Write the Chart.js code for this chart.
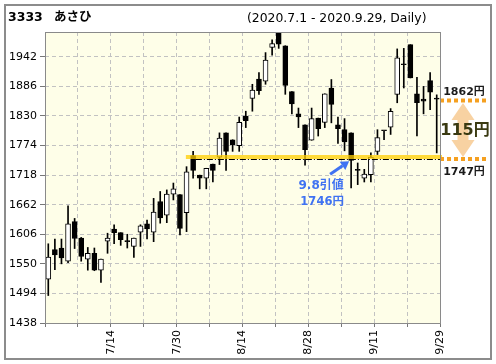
<!DOCTYPE html>
<html>
<head>
<meta charset="utf-8">
<script src="https://cdn.jsdelivr.net/npm/chart.js@4.4.1/dist/chart.umd.min.js"></script>
<style>
  html, body { margin: 0; padding: 0; background: #fff; }
  canvas { display: block; }
</style>
</head>
<body>
<canvas id="chart" width="496" height="364"></canvas>
<script>
// trading days 2020/7/1 - 2020/9/29
const dates = [
  '7/1','7/2','7/3','7/6','7/7','7/8','7/9','7/10','7/13','7/14',
  '7/15','7/16','7/17','7/20','7/21','7/22','7/27','7/28','7/29','7/30',
  '7/31','8/3','8/4','8/5','8/6','8/7','8/11','8/12','8/13','8/14',
  '8/17','8/18','8/19','8/20','8/21','8/24','8/25','8/26','8/27','8/28',
  '8/31','9/1','9/2','9/3','9/4','9/7','9/8','9/9','9/10','9/11',
  '9/14','9/15','9/16','9/17','9/18','9/23','9/24','9/25','9/28','9/29'
];
const opens = [
  1521, 1577, 1580, 1555, 1630, 1599, 1559, 1570, 1538, 1593,
  1616, 1609, 1592, 1583, 1610, 1626, 1610, 1668, 1642, 1682,
  1681, 1647, 1755, 1718, 1712, 1739, 1752, 1798, 1785, 1774,
  1830, 1863, 1900, 1896, 1960, 1987, 1963, 1876, 1834, 1813,
  1784, 1826, 1818, 1883, 1813, 1804, 1798, 1728, 1712, 1719,
  1763, 1802, 1809, 1871, 1927, 1965, 1872, 1862, 1897, 1862
];
const highs = [
  1588, 1597, 1597, 1660, 1636, 1600, 1581, 1580, 1559, 1608,
  1624, 1609, 1606, 1599, 1624, 1633, 1674, 1687, 1690, 1703,
  1681, 1734, 1763, 1718, 1731, 1739, 1798, 1798, 1785, 1828,
  1839, 1890, 1912, 1950, 1974, 1989, 1963, 1876, 1845, 1813,
  1845, 1826, 1872, 1899, 1828, 1825, 1798, 1741, 1729, 1760,
  1804, 1802, 1844, 1957, 1958, 1965, 1903, 1886, 1912, 1870
];
const lows = [
  1490, 1539, 1550, 1552, 1579, 1555, 1538, 1537, 1515, 1570,
  1588, 1585, 1580, 1562, 1583, 1597, 1592, 1627, 1628, 1671,
  1605, 1611, 1712, 1692, 1692, 1705, 1738, 1727, 1763, 1763,
  1808, 1839, 1871, 1890, 1945, 1958, 1871, 1834, 1808, 1737,
  1784, 1792, 1808, 1817, 1778, 1764, 1694, 1700, 1705, 1705,
  1757, 1785, 1795, 1855, 1883, 1902, 1792, 1834, 1842, 1760
];
const closes = [
  1563, 1567, 1561, 1626, 1598, 1564, 1570, 1538, 1559, 1599,
  1609, 1596, 1592, 1599, 1622, 1616, 1648, 1637, 1682, 1692,
  1617, 1724, 1727, 1712, 1731, 1727, 1788, 1763, 1775, 1818,
  1821, 1879, 1878, 1936, 1967, 1966, 1888, 1853, 1828, 1766,
  1825, 1806, 1872, 1852, 1806, 1781, 1746, 1727, 1720, 1752,
  1789, 1802, 1839, 1940, 1927, 1902, 1855, 1858, 1875, 1862
];

const xLabelDates = ['7/14', '7/30', '8/14', '8/28', '9/11', '9/29'];
const yTicks = [1438, 1494, 1550, 1606, 1662, 1718, 1774, 1830, 1886, 1942];
const yMin = 1438;
const yMax = 1989;

const supportPrice = 1747;
const lastPrice = 1862;
const noteDay = 46; // 9/8
const noteLines = ['9.8引値', '1746円'];

const FONT = '"DejaVu Sans", "Noto Sans CJK JP", sans-serif';

const bodyData = dates.map((d, i) => ({ x: i, y: [opens[i], closes[i]] }));
const wickData = dates.map((d, i) => ({ x: i, y: [lows[i], highs[i]] }));
const bodyColors = dates.map((d, i) => closes[i] > opens[i] ? '#ffffff' : '#000000');

// gridlines every 5 trading days, between candles
const gridVals = [];
for (let v = -0.5; v <= 59.5; v += 5) gridVals.push(v);

const decor = {
  id: 'decor',
  beforeDraw(chart) {
    const { ctx, chartArea: a } = chart;
    ctx.save();
    ctx.fillStyle = '#ffffff';
    ctx.fillRect(0, 0, chart.width, chart.height);
    ctx.fillStyle = '#fefee8';
    ctx.fillRect(a.left, a.top, a.right - a.left, a.bottom - a.top);
    ctx.restore();
  },
  afterDatasetsDraw(chart) {
    const { ctx, chartArea: a } = chart;
    const xs = chart.scales.x, ys = chart.scales.y;
    const ySup = Math.round(ys.getPixelForValue(supportPrice));
    const yLast = Math.round(ys.getPixelForValue(lastPrice));
    const xStart = xs.getPixelForValue(20.9);
    ctx.save();

    // yellow support band + dash-dot line
    ctx.fillStyle = 'rgba(255, 205, 0, 0.75)';
    ctx.fillRect(xStart, ySup - 5, a.right - xStart + 2, 4);
    ctx.strokeStyle = '#000';
    ctx.lineWidth = 1;
    ctx.setLineDash([6, 2, 1, 2]);
    ctx.beginPath();
    ctx.moveTo(xStart + 10, ySup - 0.5);
    ctx.lineTo(a.right, ySup - 0.5);
    ctx.stroke();

    // orange dotted levels on the right
    ctx.strokeStyle = '#f5a020';
    ctx.lineWidth = 4;
    ctx.setLineDash([4, 3]);
    ctx.beginPath();
    ctx.moveTo(a.right, yLast + 1.5);
    ctx.lineTo(a.right + 46, yLast + 1.5);
    ctx.moveTo(a.right, ySup - 1);
    ctx.lineTo(a.right + 46, ySup - 1);
    ctx.stroke();
    ctx.setLineDash([]);

    // double arrow
    const cx = a.right + 23;
    const top = yLast + 4, bot = ySup - 3;
    const hh = 17, hw = 11.5, sw = 5.5;
    ctx.fillStyle = 'rgba(242, 165, 70, 0.5)';
    ctx.beginPath();
    ctx.moveTo(cx, top);
    ctx.lineTo(cx + hw, top + hh);
    ctx.lineTo(cx + sw, top + hh);
    ctx.lineTo(cx + sw, bot - hh);
    ctx.lineTo(cx + hw, bot - hh);
    ctx.lineTo(cx, bot);
    ctx.lineTo(cx - hw, bot - hh);
    ctx.lineTo(cx - sw, bot - hh);
    ctx.lineTo(cx - sw, top + hh);
    ctx.lineTo(cx - hw, top + hh);
    ctx.closePath();
    ctx.fill();

    // texts on the right
    ctx.textAlign = 'center';
    ctx.textBaseline = 'alphabetic';
    ctx.fillStyle = '#3a3a12';
    ctx.font = 'bold 16px ' + FONT;
    ctx.fillText((lastPrice - supportPrice) + '円', cx + 2, yLast + 36);
    ctx.fillStyle = '#1a1a1a';
    ctx.font = 'bold 11px ' + FONT;
    ctx.fillText(lastPrice + '円', cx + 1, yLast - 4);
    ctx.fillText(supportPrice + '円', cx + 1, ySup + 15);

    // blue note for 9/8 close
    const nx = xs.getPixelForValue(noteDay);
    const ny = ys.getPixelForValue(closes[noteDay]);
    const tipX = nx - 2, tipY = ny + 1;
    const tailX = nx - 21, tailY = ny + 14;
    const dx = tipX - tailX, dy = tipY - tailY;
    const len = Math.hypot(dx, dy);
    const ux = dx / len, uy = dy / len;
    const bx = tipX - ux * 8, by = tipY - uy * 8;
    ctx.strokeStyle = '#3f72f2';
    ctx.fillStyle = '#3f72f2';
    ctx.lineWidth = 3;
    ctx.beginPath();
    ctx.moveTo(tailX, tailY);
    ctx.lineTo(bx, by);
    ctx.stroke();
    ctx.beginPath();
    ctx.moveTo(tipX, tipY);
    ctx.lineTo(bx - uy * 5, by + ux * 5);
    ctx.lineTo(bx + uy * 5, by - ux * 5);
    ctx.closePath();
    ctx.fill();
    ctx.font = 'bold 12px ' + FONT;
    ctx.fillText(noteLines[0], nx - 30, ny + 29);
    ctx.font = 'bold 11.5px ' + FONT;
    ctx.fillText(noteLines[1], nx - 29, ny + 45);
    ctx.restore();
  },
  afterDraw(chart) {
    const { ctx, chartArea: a } = chart;
    ctx.save();
    // plot frame
    ctx.strokeStyle = '#8a8a8a';
    ctx.lineWidth = 1;
    ctx.strokeRect(Math.round(a.left) + 0.5, Math.round(a.top) + 0.5,
      Math.round(a.right - a.left), Math.round(a.bottom - a.top));
    // outer frame
    ctx.lineWidth = 2;
    ctx.strokeStyle = '#8c8c8c';
    ctx.strokeRect(5, 5, 486, 354);
    // titles
    ctx.fillStyle = '#000';
    ctx.textBaseline = 'alphabetic';
    ctx.textAlign = 'left';
    ctx.font = 'bold 12.5px ' + FONT;
    ctx.fillText('3333', 8, 21);
    ctx.fillText('あさひ', 54, 21);
    ctx.font = '12.4px ' + FONT;
    ctx.fillText('(2020.7.1 - 2020.9.29, Daily)', 247, 22);
    ctx.restore();
  }
};

new Chart(document.getElementById('chart'), {
  type: 'bar',
  data: {
    datasets: [
      {
        label: 'body',
        data: bodyData,
        backgroundColor: bodyColors,
        borderColor: '#000',
        borderWidth: 1,
        borderSkipped: false,
        minBarLength: 1,
        grouped: false,
        barPercentage: 1,
        categoryPercentage: 1,
        maxBarThickness: 5
      },
      {
        label: 'wick',
        data: wickData,
        backgroundColor: '#000',
        borderWidth: 0,
        grouped: false,
        barPercentage: 1,
        categoryPercentage: 1,
        maxBarThickness: 1
      }
    ]
  },
  options: {
    responsive: false,
    animation: false,
    devicePixelRatio: 1,
    layout: { padding: { left: 0, right: 56, top: 32, bottom: 0 } },
    plugins: {
      legend: { display: false },
      tooltip: { enabled: false },
      title: { display: false }
    },
    scales: {
      x: {
        type: 'linear',
        min: -0.5,
        max: 59.5,
        offset: false,
        afterBuildTicks: s => { s.ticks = gridVals.map(v => ({ value: v })); },
        afterFit: s => { s.height = 41; },
        grid: {
          offset: false,
          color: '#c2c2c2',
          tickLength: 4,
          tickColor: '#777',
          tickBorderDash: []
        },
        border: { display: false, dash: [4, 3] },
        ticks: {
          autoSkip: false,
          minRotation: 90,
          maxRotation: 90,
          padding: 3,
          color: '#000',
          font: { family: FONT, size: 11 },
          callback: v => {
            const d = dates[Math.round(v - 0.5)];
            return xLabelDates.includes(d) ? d : '';
          }
        }
      },
      y: {
        type: 'linear',
        min: yMin,
        max: yMax,
        afterBuildTicks: s => { s.ticks = yTicks.map(v => ({ value: v })); },
        afterFit: s => { s.width = 45; },
        grid: {
          color: '#c2c2c2',
          tickLength: 5,
          tickColor: '#777',
          tickBorderDash: []
        },
        border: { display: false, dash: [4, 3] },
        ticks: {
          padding: 3,
          color: '#000',
          font: { family: FONT, size: 11 },
          callback: v => String(v)
        }
      }
    }
  },
  plugins: [decor]
});
</script>
</body>
</html>
